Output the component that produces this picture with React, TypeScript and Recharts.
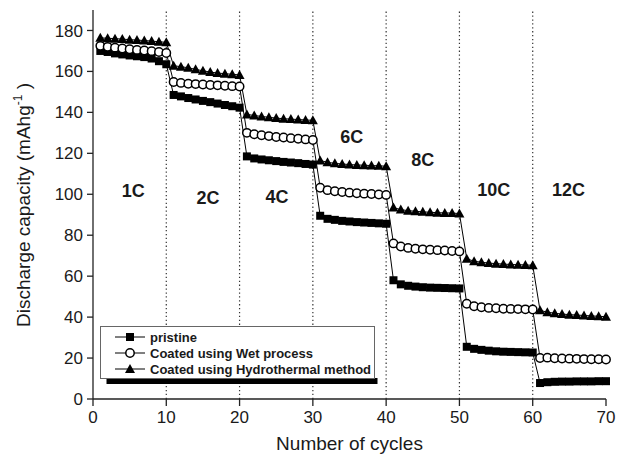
import React from "react";
import { LineChart, Line, XAxis, YAxis, ReferenceLine, ReferenceDot, Legend } from "recharts";

// discharge capacity (mAh/g) per cycle, 10 cycles at each C-rate
const cycles = Array.from({ length: 70 }, (_, i) => i + 1);

const pristine = [
  170, 169.5, 168.8, 168.3, 167.8, 167.4, 167, 166.3, 165, 163.5,
  148.5, 147.8, 147, 146.3, 145.6, 145, 144.3, 143.6, 143, 142.3,
  118.5, 117.5, 117, 116.6, 116.2, 115.8, 115.5, 115.2, 114.8, 114.5,
  89.5, 88, 87.5, 87, 86.7, 86.4, 86.2, 86, 85.8, 85.6,
  58, 56, 55.3, 54.9, 54.6, 54.4, 54.3, 54.2, 54.1, 54,
  25.5, 24.5, 24, 23.6, 23.3, 23.1, 23, 22.9, 22.8, 22.7,
  7.8, 8.2, 8.4, 8.5, 8.5, 8.6, 8.6, 8.6, 8.7, 8.7,
];

const wetProcess = [
  172.5, 172, 171.6, 171.2, 170.8, 170.5, 170.2, 169.9, 169.5, 169,
  154.8, 154.4, 154, 153.8, 153.6, 153.4, 153.2, 153, 152.8, 152.6,
  130, 129.3, 128.8, 128.4, 128, 127.7, 127.4, 127.1, 126.8, 126.5,
  103.2, 102, 101.5, 101.1, 100.8, 100.5, 100.3, 100.1, 99.9, 99.7,
  76, 74.5, 73.8, 73.4, 73.1, 72.9, 72.7, 72.5, 72.3, 72.1,
  46.5, 45.3, 44.8, 44.5, 44.3, 44.1, 44, 43.9, 43.8, 43.7,
  20, 20.2, 19.9, 19.8, 19.7, 19.6, 19.5, 19.4, 19.4, 19.3,
];

const hydrothermal = [
  176.4, 176.2, 176, 175.8, 175.5, 175.3, 175.1, 174.8, 174.5, 174.2,
  162.8, 162.3, 161.8, 161, 160.3, 159.7, 159.2, 158.9, 158.6, 158.3,
  139, 138.5, 138, 137.6, 137.2, 136.9, 136.7, 136.5, 136.3, 136.1,
  116.5, 115.6, 115.1, 114.8, 114.5, 114.3, 114.2, 114, 113.9, 113.7,
  93.5, 92.5, 92, 91.7, 91.4, 91.2, 91, 90.9, 90.8, 90.6,
  68.5, 67.3, 66.8, 66.4, 66.1, 65.9, 65.7, 65.6, 65.5, 65.3,
  43.3, 42.4, 41.9, 41.5, 41.2, 41, 40.8, 40.6, 40.4, 40.2,
];

const seriesOrder = ["pristine", "wet", "hydro"];

const rateBoundaries = [10, 20, 30, 40, 50, 60];
const rateNames = ["1C", "2C", "4C", "6C", "8C", "10C", "12C"];
const rateLabelX = [5.5, 15.7, 25.1, 35.3, 45, 54.7, 64.9];
const rateLabelY = [102, 98.4, 99, 128, 117, 102.5, 102.5];

const xTicks = [0, 10, 20, 30, 40, 50, 60, 70];
const xMinorTicks = [5, 15, 25, 35, 45, 55, 65];
const yTicks = [0, 20, 40, 60, 80, 100, 120, 140, 160, 180];
const yMinorTicks = [10, 30, 50, 70, 90, 110, 130, 150, 170];

const data = cycles.map((c, i) => ({
  cycle: c,
  pristine: pristine[i],
  wet: wetProcess[i],
  hydro: hydrothermal[i],
}));

const FONT = "'Liberation Sans', Arial, sans-serif";
const INK = "#1a1a1a";

const Square = (p: any) => (
  <rect key={`sq-${p.index}`} x={p.cx - 4} y={p.cy - 4} width={8} height={8} fill="#000" />
);
const Circle = (p: any) => (
  <circle key={`ci-${p.index}`} cx={p.cx} cy={p.cy} r={4.2} fill="#fff" stroke="#000" strokeWidth={1.5} />
);
const Triangle = (p: any) => (
  <polygon
    key={`tr-${p.index}`}
    points={`${p.cx},${p.cy - 5} ${p.cx + 5},${p.cy + 4} ${p.cx - 5},${p.cy + 4}`}
    fill="#000"
  />
);

const legendMarker: Record<string, (cx: number, cy: number) => React.ReactNode> = {
  pristine: (cx, cy) => <rect x={cx - 4} y={cy - 4} width={8} height={8} fill="#000" />,
  wet: (cx, cy) => <circle cx={cx} cy={cy} r={4.2} fill="#fff" stroke="#000" strokeWidth={1.5} />,
  hydro: (cx, cy) => <polygon points={`${cx},${cy - 5} ${cx + 5},${cy + 4} ${cx - 5},${cy + 4}`} fill="#000" />,
};

const renderLegend = (props: any) => {
  const items = [...(props.payload || [])].sort(
    (a: any, b: any) => seriesOrder.indexOf(a.dataKey) - seriesOrder.indexOf(b.dataKey)
  );
  return (
    <svg width={290} height={64}>
      <rect x={6.5} y={52} width={271} height={6} fill="#000" />
      <rect x={0.5} y={0.5} width={274} height={52} fill="#fff" stroke="#666" strokeWidth={1} />
      {items.map((it: any, i: number) => {
        const cy = 11 + i * 16;
        return (
          <g key={it.value}>
            <line x1={15} x2={45} y1={cy} y2={cy} stroke="#000" strokeWidth={1} />
            {legendMarker[it.dataKey]?.(30, cy)}
            <text x={50} y={cy} dy="0.35em" fontFamily={FONT} fontSize={13} fontWeight="bold" fill={INK}>
              {it.value}
            </text>
          </g>
        );
      })}
    </svg>
  );
};

const renderYTitle = () => (
  <text
    x={30}
    y={205}
    transform="rotate(-90, 30, 205)"
    textAnchor="middle"
    fontFamily={FONT}
    fontSize={19}
    fill={INK}
  >
    Discharge capacity (mAhg
    <tspan dy={-8} fontSize={12}>-1</tspan>
    <tspan dy={8}> )</tspan>
  </text>
);

const renderVoltage = () => (
  <text x={597} y={26} textAnchor="end" fontFamily={FONT} fontSize={17} fill={INK}>
    Voltage range : 4.6 ~ 3.0 V
  </text>
);

export default function App() {
  return (
    <div style={{ position: "absolute", left: 0, top: 0, background: "#fff" }}>
      <LineChart width={630} height={464} data={data} margin={{ top: 10, right: 24, bottom: 0, left: 0 }}>
        <XAxis
          xAxisId="minor"
          dataKey="cycle"
          type="number"
          domain={[0, 70]}
          ticks={xMinorTicks}
          tick={false}
          tickSize={4}
          height={0}
          axisLine={false}
          stroke="#222"
        />
        <XAxis
          xAxisId="main"
          dataKey="cycle"
          type="number"
          domain={[0, 70]}
          ticks={xTicks}
          tickSize={7}
          tickMargin={5}
          height={65}
          stroke="#222"
          strokeWidth={1.3}
          tick={{ fontFamily: FONT, fontSize: 17, fill: INK }}
          label={{ value: "Number of cycles", position: "insideBottom", offset: 14, fontFamily: FONT, fontSize: 19, fill: INK }}
        />
        <XAxis
          xAxisId="top"
          orientation="top"
          type="number"
          domain={[0, 70]}
          tick={false}
          tickLine={false}
          height={0}
          stroke="#222"
          strokeWidth={1.3}
          label={renderVoltage}
        />
        <YAxis
          yAxisId="minor"
          type="number"
          domain={[0, 190]}
          ticks={yMinorTicks}
          tick={false}
          tickSize={4}
          width={0}
          axisLine={false}
          stroke="#222"
        />
        <YAxis
          yAxisId="main"
          type="number"
          domain={[0, 190]}
          ticks={yTicks}
          tickSize={6}
          tickMargin={4}
          width={93}
          stroke="#222"
          strokeWidth={1.3}
          tick={{ fontFamily: FONT, fontSize: 17, fill: INK }}
          label={renderYTitle}
        />
        <YAxis
          yAxisId="right"
          orientation="right"
          type="number"
          domain={[0, 190]}
          tick={false}
          tickLine={false}
          width={0}
          stroke="#222"
          strokeWidth={1.3}
        />
        {rateBoundaries.map((b) => (
          <ReferenceLine
            key={b}
            xAxisId="main"
            yAxisId="main"
            x={b}
            stroke="#333"
            strokeWidth={1.2}
            strokeDasharray="1.3 2.6"
          />
        ))}
        {rateNames.map((n, i) => (
          <ReferenceDot
            key={n}
            xAxisId="main"
            yAxisId="main"
            x={rateLabelX[i]}
            y={rateLabelY[i]}
            r={0}
            fill="none"
            stroke="none"
            label={{ value: n, position: "center", fontFamily: FONT, fontSize: 18, fontWeight: "bold", fill: INK }}
          />
        ))}
        <Line
          xAxisId="main"
          yAxisId="main"
          dataKey="pristine"
          name="pristine"
          stroke="#000"
          strokeWidth={1}
          dot={Square}
          activeDot={false}
          isAnimationActive={false}
        />
        <Line
          xAxisId="main"
          yAxisId="main"
          dataKey="wet"
          name="Coated using Wet process"
          stroke="#000"
          strokeWidth={1}
          dot={Circle}
          activeDot={false}
          isAnimationActive={false}
        />
        <Line
          xAxisId="main"
          yAxisId="main"
          dataKey="hydro"
          name="Coated using Hydrothermal method"
          stroke="#000"
          strokeWidth={1}
          dot={Triangle}
          activeDot={false}
          isAnimationActive={false}
        />
        <Legend
          layout="horizontal"
          verticalAlign="middle"
          align="center"
          content={renderLegend}
          wrapperStyle={{ left: 100, top: 326, width: 290, height: 64 }}
        />
      </LineChart>
    </div>
  );
}
